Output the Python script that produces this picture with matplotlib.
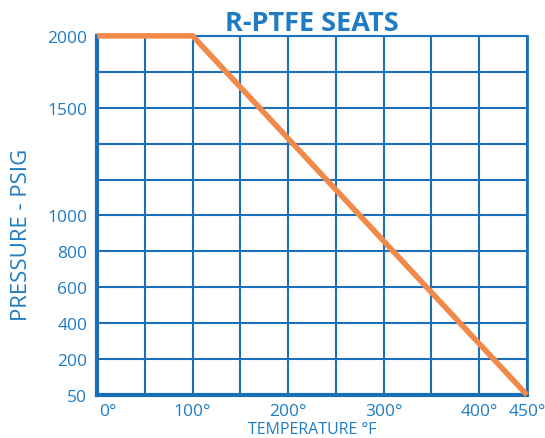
import numpy as np
import matplotlib
matplotlib.use('Agg')
import matplotlib.pyplot as plt
import matplotlib.transforms as mtransforms

# rating curve
temps = [0, 100, 450]
pressures = [2000, 2000, 50]

# chart grid
x_grid = list(range(0, 451, 50))
x_ticks = [0, 100, 200, 300, 400, 450]
x_labels = ['0°', '100°', '200°', '300°', '400°', '450°']
y_grid = [50, 200, 400, 600, 800, 1000, 1166.7, 1333.3, 1500, 1750, 2000]
y_labels = ['50', '200', '400', '600', '800', '1000', '', '', '1500', '', '2000']

BLUE = '#1b6fb8'
TEXT = '#1f7cc4'
ORANGE = '#f0894a'

plt.rcParams['font.family'] = ['Open Sans', 'DejaVu Sans']

grid_pos = np.arange(len(y_grid))


def fwd(v):
    return np.interp(v, y_grid, grid_pos)


def inv(p):
    return np.interp(p, grid_pos, y_grid)


fig = plt.figure(figsize=(5.45, 4.39), dpi=100)
ax = fig.add_axes([0.178, 0.098, 0.789, 0.818])

ax.set_yscale('function', functions=(fwd, inv))
ax.set_xlim(0, 450)
ax.set_ylim(50, 2000)

ax.set_xticks(x_grid)
ax.set_xticklabels([x_labels[x_ticks.index(v)] if v in x_ticks else '' for v in x_grid])
ax.set_yticks(y_grid)
ax.set_yticklabels(y_labels)
ax.minorticks_off()

ax.grid(True, color=BLUE, linewidth=1.5)
ax.set_axisbelow(True)

ax.plot(temps, pressures, color=ORANGE, linewidth=4, solid_capstyle='butt',
        solid_joinstyle='miter', clip_on=False, zorder=5)

for side, lw in [('left', 3), ('bottom', 3), ('right', 2), ('top', 1.5)]:
    ax.spines[side].set_color(BLUE)
    ax.spines[side].set_linewidth(lw)

ax.tick_params(length=0, labelsize=12.5, labelcolor=TEXT)
ax.tick_params(axis='y', pad=7)
ax.tick_params(axis='x', pad=6)

# first x label sits right of the axis corner
lbl0 = ax.get_xticklabels()[0]
lbl0.set_transform(lbl0.get_transform() +
                   mtransforms.ScaledTranslation(11 / 100, 0, fig.dpi_scale_trans))

ax.set_title('R-PTFE SEATS', color=TEXT, fontsize=19.5, fontweight='bold', pad=2)
ax.set_xlabel('TEMPERATURE °F', color=TEXT, fontsize=11.5, labelpad=1)
ax.set_ylabel('PRESSURE - PSIG', color=TEXT, fontsize=16, va='center')
ax.yaxis.set_label_coords(-0.175, 0.45)

fig.savefig('out.png', dpi=100, facecolor='white')
